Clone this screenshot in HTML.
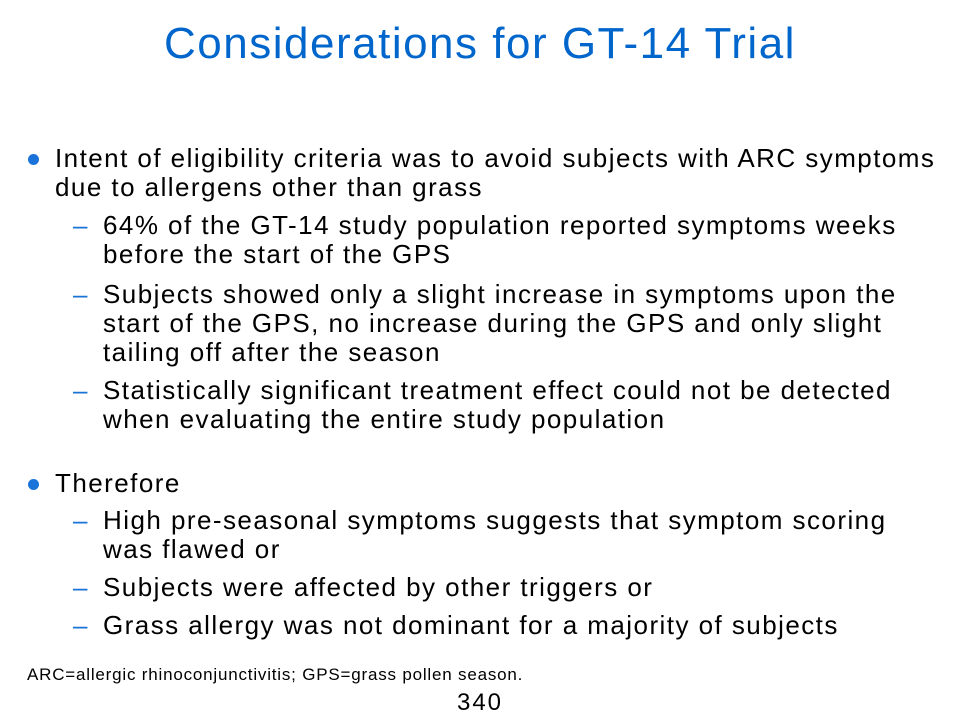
<!DOCTYPE html>
<html><head><meta charset="utf-8">
<style>
body{margin:0;background:#fff;}
#slide{position:relative;width:960px;height:720px;overflow:hidden;font-family:"Liberation Sans",Arial,sans-serif;color:#000;}
.t{position:absolute;white-space:nowrap;font-size:26px;line-height:29px;letter-spacing:1.45px;}
.title{position:absolute;left:0;width:960px;text-align:center;top:19px;font-size:44px;letter-spacing:1.5px;color:#0066CC;}
.dot{position:absolute;width:11px;height:11px;border-radius:50%;background:#1a73d9;}
.dash{position:absolute;font-size:26px;line-height:29px;color:#1a73d9;}
</style></head><body>
<div id="slide">
<div class="title">Considerations for GT-14 Trial</div>

<div class="dot" style="left:28px;top:154px"></div>
<div class="t" style="left:55px;top:144px">Intent of eligibility criteria was to avoid subjects with ARC symptoms<br>due to allergens other than grass</div>

<div class="dash" style="left:73px;top:211px">–</div>
<div class="t" style="left:103px;top:211px">64% of the GT-14 study population reported symptoms weeks<br>before the start of the GPS</div>

<div class="dash" style="left:73px;top:280px">–</div>
<div class="t" style="left:103px;top:280px">Subjects showed only a slight increase in symptoms upon the<br>start of the GPS, no increase during the GPS and only slight<br>tailing off after the season</div>

<div class="dash" style="left:73px;top:376px">–</div>
<div class="t" style="left:103px;top:376px">Statistically significant treatment effect could not be detected<br>when evaluating the entire study population</div>

<div class="dot" style="left:28px;top:479px"></div>
<div class="t" style="left:55px;top:469px">Therefore</div>

<div class="dash" style="left:73px;top:506px">–</div>
<div class="t" style="left:103px;top:506px">High pre-seasonal symptoms suggests that symptom scoring<br>was flawed or</div>

<div class="dash" style="left:73px;top:573px">–</div>
<div class="t" style="left:103px;top:573px">Subjects were affected by other triggers or</div>

<div class="dash" style="left:73px;top:611px">–</div>
<div class="t" style="left:103px;top:611px">Grass allergy was not dominant for a majority of subjects</div>

<div class="t" style="left:27px;top:665px;font-size:17px;line-height:20px;letter-spacing:0.8px">ARC=allergic rhinoconjunctivitis; GPS=grass pollen season.</div>
<div class="t" style="left:0;width:960px;text-align:center;top:689px;font-size:24px;line-height:28px;letter-spacing:2px">340</div>
</div>
</body></html>
